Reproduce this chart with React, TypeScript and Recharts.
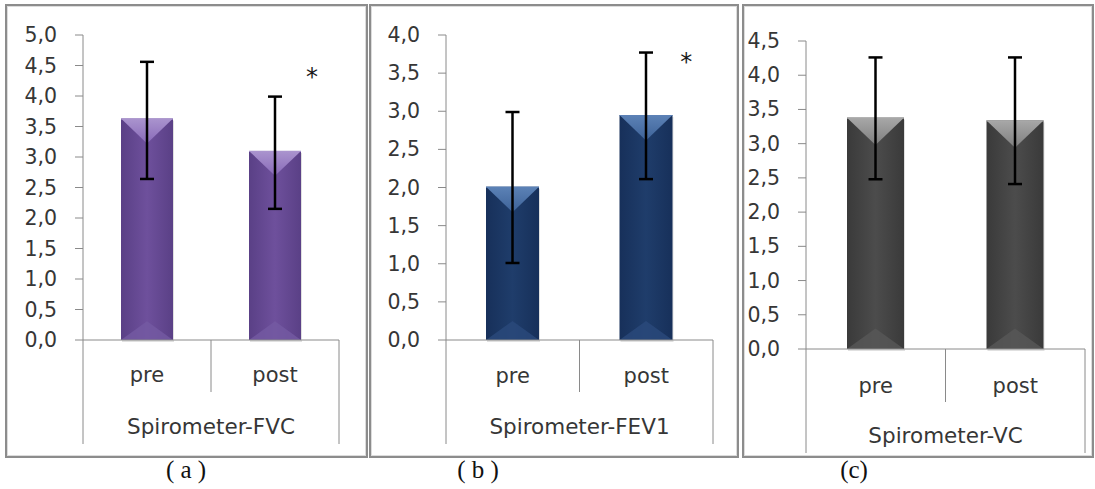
import React from 'react';
import { BarChart, Bar, XAxis, YAxis, ErrorBar, ReferenceDot } from 'recharts';

// ---------- data ----------
const categories = ['pre', 'post'];

const fvcValues = [3.63, 3.1];
const fvcLower = [2.64, 2.15];
const fvcUpper = [4.56, 3.99];

const fev1Values = [2.01, 2.95];
const fev1Lower = [1.01, 2.11];
const fev1Upper = [2.99, 3.77];

const vcValues = [3.38, 3.34];
const vcLower = [2.48, 2.41];
const vcUpper = [4.26, 4.26];

const fvcTicks = [0, 0.5, 1, 1.5, 2, 2.5, 3, 3.5, 4, 4.5, 5];
const fev1Ticks = [0, 0.5, 1, 1.5, 2, 2.5, 3, 3.5, 4];
const vcTicks = [0, 0.5, 1, 1.5, 2, 2.5, 3, 3.5, 4, 4.5];

const groupNames = ['Spirometer-FVC', 'Spirometer-FEV1', 'Spirometer-VC'];
const captions = ['( a )', '( b )', '(c)'];

// significance markers: [category position, value]
const fvcStar = [1.79, 4.39];
const fev1Star = [1.8, 3.71];

// ---------- styling ----------
const AXIS = '#8a8a8a';
const TEXT = '#363636';
const FONT = '"DejaVu Sans", sans-serif';

type Palette = { id: string; base: string; edge: string; top1: string; top2: string; bottom: string };
const purple: Palette = { id: 'pu', base: '#6e509c', edge: '#5a4086', top1: '#aa94ce', top2: '#8869b8', bottom: '#745aa2' };
const navy: Palette = { id: 'nv', base: '#1f3d6b', edge: '#17305a', top1: '#5c82b6', top2: '#3d6298', bottom: '#2a4a7c' };
const gray: Palette = { id: 'gy', base: '#4c4c4c', edge: '#3a3a3a', top1: '#a8a8a8', top2: '#7e7e7e', bottom: '#585858' };

const buildRows = (vals: number[], lo: number[], hi: number[]) =>
  categories.map((c, i) => ({
    pos: i + 0.5,
    name: c,
    value: vals[i],
    err: [+(vals[i] - lo[i]).toFixed(3), +(hi[i] - vals[i]).toFixed(3)],
  }));

const fmt = (v: number) => v.toFixed(1).replace('.', ',');

const makeBevel = (p: Palette) => (props: any) => {
  const { x, y, width: w, height: h } = props;
  if (!w || !h || h <= 0) return <g />;
  const d = w * 0.48;
  const db = w * 0.36;
  return (
    <g>
      <rect x={x + 1} y={y + 2} width={w} height={h} fill="#000" opacity={0.12} />
      <rect x={x} y={y} width={w} height={h} fill={`url(#${p.id}-h)`} />
      <polygon points={`${x},${y} ${x + w},${y} ${x + w / 2},${y + d}`} fill={`url(#${p.id}-t)`} />
      <polygon points={`${x},${y + h} ${x + w},${y + h} ${x + w / 2},${y + h - db}`} fill={p.bottom} opacity={0.8} />
      <line x1={x} y1={y + 0.5} x2={x + w} y2={y + 0.5} stroke={p.top1} strokeWidth={1} />
    </g>
  );
};

const Defs = ({ p }: { p: Palette }) => (
  <defs>
    <linearGradient id={`${p.id}-h`} x1="0" y1="0" x2="1" y2="0">
      <stop offset="0" stopColor={p.edge} />
      <stop offset="0.5" stopColor={p.base} />
      <stop offset="1" stopColor={p.edge} />
    </linearGradient>
    <linearGradient id={`${p.id}-t`} x1="0" y1="0" x2="0" y2="1">
      <stop offset="0" stopColor={p.top1} />
      <stop offset="1" stopColor={p.top2} />
    </linearGradient>
  </defs>
);

const makeXTick = (boxH: number, sepH: number, labelDy: number) => (props: any) => {
  const { x, y, payload } = props;
  const v = payload.value as number;
  if (Number.isInteger(v)) {
    const len = v === 0 || v === categories.length ? boxH : sepH;
    return <line x1={x} y1={y} x2={x} y2={y + len} stroke={AXIS} strokeWidth={1} />;
  }
  return (
    <text x={x} y={y + labelDy} textAnchor="middle" fill={TEXT} fontSize={21} fontFamily={FONT}>
      {categories[Math.floor(v)]}
    </text>
  );
};

const YTick = (props: any) => {
  const { x, y, payload } = props;
  return (
    <text x={x} y={y} dy={7} textAnchor="end" fill={TEXT} fontSize={20.5} fontFamily={FONT}>
      {fmt(payload.value)}
    </text>
  );
};

const Star = (props: any) => {
  const { cx, cy } = props;
  return (
    <text x={cx} y={cy + 13} textAnchor="middle" fill="#1a1a1a" fontSize={24} fontFamily={FONT}>
      *
    </text>
  );
};

type PanelProps = {
  left: number;
  width: number;
  yWidth: number;
  top: number;
  right: number;
  bottom: number;
  boxH: number;
  sepH: number;
  labelDy: number;
  rows: any[];
  ticks: number[];
  pal: Palette;
  group: string;
  barSize: number;
  star?: number[];
};

const Panel = (p: PanelProps) => {
  const max = p.ticks[p.ticks.length - 1];
  return (
    <div style={{ position: 'absolute', left: p.left, top: 0 }}>
      <BarChart
        width={p.width}
        height={489}
        data={p.rows}
        margin={{ top: p.top, right: p.right, left: 0, bottom: p.bottom }}
      >
        <Defs p={p.pal} />
        <XAxis
          dataKey="pos"
          type="number"
          domain={[0, categories.length]}
          ticks={[0, 0.5, 1, 1.5, 2]}
          interval={0}
          height={p.boxH}
          tickSize={0}
          tickMargin={0}
          tickLine={false}
          axisLine={{ stroke: AXIS }}
          tick={makeXTick(p.boxH, p.sepH, p.labelDy)}
          label={{ value: p.group, position: 'insideBottom', offset: 10, fill: TEXT, fontSize: 21.5, fontFamily: FONT }}
        />
        <YAxis
          type="number"
          domain={[0, max]}
          ticks={p.ticks}
          interval={0}
          width={p.yWidth}
          tickSize={8}
          tickMargin={18}
          tickFormatter={fmt}
          axisLine={{ stroke: AXIS }}
          tickLine={{ stroke: AXIS }}
          tick={<YTick />}
        />
        <Bar dataKey="value" barSize={p.barSize} isAnimationActive={false} shape={makeBevel(p.pal)}>
          <ErrorBar dataKey="err" width={7} stroke="#000" strokeWidth={2.5} direction="y" />
        </Bar>
        {p.star && (
          <ReferenceDot x={p.star[0]} y={p.star[1]} r={0} ifOverflow="visible" shape={Star} />
        )}
      </BarChart>
    </div>
  );
};

const boxStyle = (left: number, width: number): React.CSSProperties => ({
  position: 'absolute',
  left,
  top: 4,
  width,
  height: 454,
  border: '2px solid #8c8c8c',
  boxShadow: 'inset 0 0 0 1px #dcdcdc',
  boxSizing: 'border-box',
});

const capStyle = (cx: number): React.CSSProperties => ({
  position: 'absolute',
  left: cx - 40,
  width: 80,
  top: 455,
  textAlign: 'center',
  fontFamily: '"Liberation Serif", "Times New Roman", serif',
  fontSize: 25,
  color: '#111',
  lineHeight: '30px',
  whiteSpace: 'pre',
});

export default function App() {
  return (
    <div style={{ position: 'absolute', left: 0, top: 0, width: 1095, height: 489, background: '#fff', overflow: 'hidden' }}>
      <div style={boxStyle(5, 363)} />
      <div style={boxStyle(369, 370)} />
      <div style={boxStyle(742, 352)} />
      <Panel
        left={0}
        width={370}
        yWidth={83}
        top={35}
        right={31}
        bottom={45}
        boxH={104}
        sepH={52}
        labelDy={42}
        rows={buildRows(fvcValues, fvcLower, fvcUpper)}
        ticks={fvcTicks}
        pal={purple}
        group={groupNames[0]}
        barSize={52}
        star={fvcStar}
      />
      <Panel
        left={365}
        width={375}
        yWidth={81}
        top={35}
        right={27}
        bottom={45}
        boxH={104}
        sepH={52}
        labelDy={43}
        rows={buildRows(fev1Values, fev1Lower, fev1Upper)}
        ticks={fev1Ticks}
        pal={navy}
        group={groupNames[1]}
        barSize={53}
        star={fev1Star}
      />
      <Panel
        left={740}
        width={355}
        yWidth={66}
        top={41}
        right={10}
        bottom={36}
        boxH={104}
        sepH={53}
        labelDy={44}
        rows={buildRows(vcValues, vcLower, vcUpper)}
        ticks={vcTicks}
        pal={gray}
        group={groupNames[2]}
        barSize={57}
      />
      <div style={capStyle(186)}>{captions[0]}</div>
      <div style={capStyle(478)}>{captions[1]}</div>
      <div style={capStyle(854)}>{captions[2]}</div>
    </div>
  );
}
